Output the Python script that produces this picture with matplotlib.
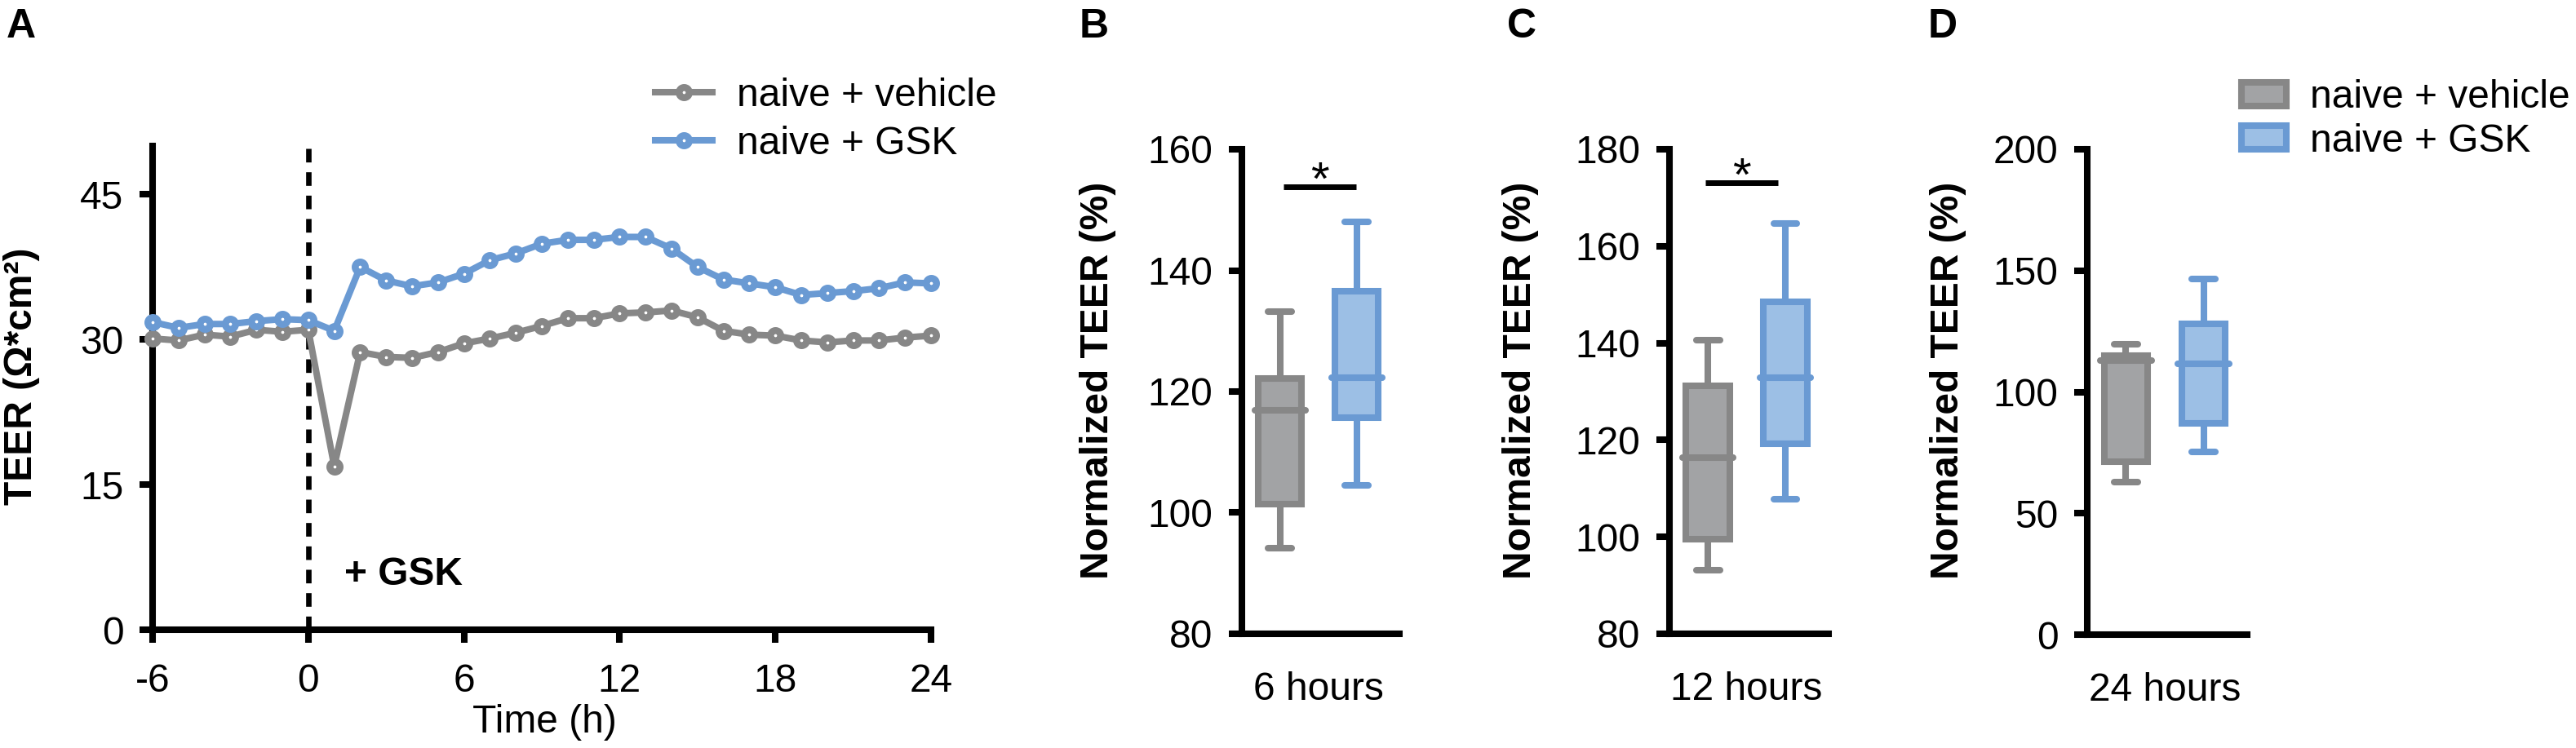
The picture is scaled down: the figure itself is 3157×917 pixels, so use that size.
import matplotlib
matplotlib.use('Agg')
import matplotlib.pyplot as plt
from matplotlib.patches import Patch

# picture size in pixels, everything below is placed with these
W, H = 3157, 917
DPI = 100

# ---- panel A: TEER time course ----
hours = [-6, -5, -4, -3, -2, -1, 0, 1, 2, 3, 4, 5, 6, 7, 8, 9, 10,
         11, 12, 13, 14, 15, 16, 17, 18, 19, 20, 21, 22, 23, 24]
teer_vehicle = [30.1, 29.9, 30.5, 30.3, 31.0, 30.8, 31.0, 16.9, 28.7, 28.2, 28.1,
                28.7, 29.6, 30.1, 30.7, 31.4, 32.2, 32.2, 32.7, 32.8, 33.0,
                32.3, 30.9, 30.5, 30.4, 29.9, 29.7, 29.9, 29.9, 30.2, 30.4]
teer_gsk = [31.8, 31.2, 31.6, 31.6, 31.9, 32.1, 32.0, 30.9, 37.5, 36.1, 35.5,
            35.9, 36.8, 38.2, 38.9, 39.9, 40.3, 40.3, 40.6, 40.6, 39.4,
            37.5, 36.2, 35.8, 35.4, 34.6, 34.8, 35.0, 35.3, 35.9, 35.8]
a_xticks = [-6, 0, 6, 12, 18, 24]
a_yticks = [0, 15, 30, 45]

# ---- panels B-D: box summaries [whisker low, q1, median, q3, whisker high] ----
box_labels = ['6 hours', '12 hours', '24 hours']
vehicle_6h = [94.1, 101.4, 116.9, 122.1, 133.2]
gsk_6h = [104.5, 115.7, 122.3, 136.6, 148.0]
vehicle_12h = [93.1, 99.6, 116.4, 131.1, 140.6]
gsk_12h = [107.7, 119.2, 132.9, 148.5, 164.6]
vehicle_24h = [63.0, 71.3, 112.9, 115.0, 119.8]
gsk_24h = [75.2, 87.1, 111.7, 127.9, 146.7]
b_yticks = [80, 100, 120, 140, 160]
c_yticks = [80, 100, 120, 140, 160, 180]
d_yticks = [0, 50, 100, 150, 200]
sig_6h = (1.05, 1.99, 153.8)
sig_12h = (0.97, 1.90, 173.1)

GRAY = '#878787'
GRAY_FILL = '#A2A3A5'
BLUE = '#6A9AD3'
BLUE_FILL = '#9CBFE5'
LW = 5.8  # pt, about 8 px

plt.rcParams['font.family'] = ['Liberation Sans', 'DejaVu Sans']
plt.rcParams['font.size'] = 34.5
plt.rcParams['axes.unicode_minus'] = False
plt.rcParams['axes.linewidth'] = LW
for ax_name in ['xtick', 'ytick']:
    plt.rcParams[ax_name + '.major.width'] = LW
    plt.rcParams[ax_name + '.major.size'] = 11.5
plt.rcParams['xtick.major.pad'] = 18
plt.rcParams['ytick.major.pad'] = 14


def fx(px):
    return px / W


def fy(py):
    return 1 - py / H


def rect(x0, x1, y_top, y_bot):
    return [fx(x0), fy(y_bot), fx(x1) - fx(x0), fy(y_top) - fy(y_bot)]


def clean(ax):
    ax.spines['top'].set_visible(False)
    ax.spines['right'].set_visible(False)


fig = plt.figure(figsize=(W / DPI, H / DPI), dpi=DPI)

# ---------------- A ----------------
axA = fig.add_axes(rect(187, 1141, 179, 772))
clean(axA)
axA.axvline(0, color='black', lw=4.8, dashes=(2.5, 1.8), zorder=1)
mk = dict(marker='o', ms=9, mfc='white', mew=6.1, lw=LW, clip_on=False, zorder=3)
axA.plot(hours, teer_vehicle, color=GRAY, mec=GRAY, label='naive + vehicle', **mk)
axA.plot(hours, teer_gsk, color=BLUE, mec=BLUE, label='naive + GSK', **mk)
axA.set_xlim(-6, 24)
axA.set_ylim(0, 50)
axA.set_xticks(a_xticks)
axA.set_yticks(a_yticks)
axA.text(1.4, 5.7, '+ GSK', fontweight='bold', ha='left', va='center')
axA.set_xlabel('Time (h)', va='center')
axA.xaxis.set_label_coords(fx(667), fy(886), transform=fig.transFigure)
axA.set_ylabel('TEER (Ω*cm²)', fontweight='bold', va='center')
axA.yaxis.set_label_coords(fx(27), fy(461), transform=fig.transFigure)
axA.legend(loc='center left', bbox_to_anchor=(fx(803), fy(147)),
           bbox_transform=fig.transFigure, frameon=False, numpoints=1,
           handlelength=1.46, handletextpad=0.63, labelspacing=0.3,
           borderpad=0, borderaxespad=0)

# ---------------- B, C, D ----------------
panels = [
    (rect(1522, 1715, 183, 777), vehicle_6h, gsk_6h, b_yticks, sig_6h, 1346),
    (rect(2046, 2241, 183, 777), vehicle_12h, gsk_12h, c_yticks, sig_12h, 1864),
    (rect(2558, 2754, 183, 778), vehicle_24h, gsk_24h, d_yticks, None, 2388),
]

for i, (r, veh, gsk, yt, sig, ylab_x) in enumerate(panels):
    ax = fig.add_axes(r)
    clean(ax)
    stats = []
    for vals in (veh, gsk):
        stats.append(dict(whislo=vals[0], q1=vals[1], med=vals[2],
                          q3=vals[3], whishi=vals[4], fliers=[]))
    bp = ax.bxp(stats, positions=[1, 2], widths=0.56, capwidths=0.305,
                patch_artist=True, showfliers=False)
    for k, (edge, fill) in enumerate([(GRAY, GRAY_FILL), (BLUE, BLUE_FILL)]):
        bp['boxes'][k].set(facecolor=fill, edgecolor=edge, linewidth=LW, zorder=2)
        for ln in bp['whiskers'][2 * k:2 * k + 2] + bp['caps'][2 * k:2 * k + 2]:
            ln.set(color=edge, linewidth=LW, solid_capstyle='round', zorder=1.5)
        med = bp['medians'][k]
        x0, x1 = med.get_xdata()
        c = (x0 + x1) / 2
        med.set_xdata([c - 0.33, c + 0.33])
        med.set(color=edge, linewidth=LW, solid_capstyle='round', zorder=3)
    ax.set_xlim(0.505, 2.558)
    ax.set_ylim(yt[0], yt[-1])
    ax.set_yticks(yt)
    ax.set_xticks([1.5])
    ax.set_xticklabels([box_labels[i]])
    ax.tick_params(axis='x', length=0, pad=33)
    ax.set_ylabel('Normalized TEER (%)', fontweight='bold', va='center')
    ax.yaxis.set_label_coords(fx(ylab_x), fy(466), transform=fig.transFigure)
    if sig is not None:
        ax.plot([sig[0], sig[1]], [sig[2], sig[2]], color='black', lw=5,
                solid_capstyle='butt')
        ax.annotate('*', xy=((sig[0] + sig[1]) / 2, sig[2]), xytext=(0, -7),
                    textcoords='offset points', ha='center', va='baseline',
                    fontsize=42)
    if i == 2:
        handles = [Patch(facecolor=GRAY_FILL, edgecolor=GRAY, linewidth=LW),
                   Patch(facecolor=BLUE_FILL, edgecolor=BLUE, linewidth=LW)]
        ax.legend(handles, ['naive + vehicle', 'naive + GSK'], loc='center left',
                  bbox_to_anchor=(fx(2747), fy(146.5)),
                  bbox_transform=fig.transFigure, frameon=False,
                  handlelength=1.15, handleheight=0.54, handletextpad=0.6,
                  labelspacing=0.17, borderpad=0, borderaxespad=0)

# panel letters
for letter, px in [('A', 8), ('B', 1323), ('C', 1847), ('D', 2363)]:
    fig.text(fx(px), fy(33), letter, fontweight='bold', fontsize=36,
             ha='left', va='center')

fig.savefig('out.png', dpi=DPI)
